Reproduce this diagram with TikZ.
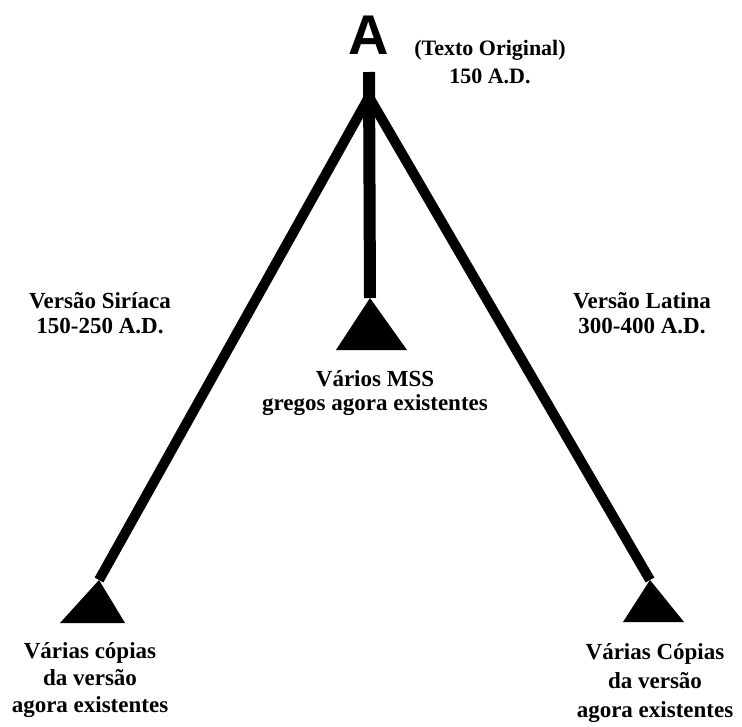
\documentclass[tikz,border=0pt]{standalone}
\usepackage{fontspec}
\setmainfont{Liberation Serif}
\newfontfamily\bigsans{Liberation Sans}
\begin{document}
\begin{tikzpicture}[x=1pt,y=-1pt,
  lbl/.style={font=\fontsize{23}{26}\selectfont\bfseries, align=center, inner sep=0pt, anchor=base},
  branch/.style={line width=10pt},
  tri/.style={fill=black}]
\useasboundingbox (0,0) rectangle (742,726);
% letter A
\node[inner sep=0pt, font=\fontsize{56}{56}\selectfont\bigsans\bfseries] (A) at (368.5,35) {A};
% junction points
\coordinate (stemtop) at (369,72);
\coordinate (fork) at (369,97);
\coordinate (mid) at (370,298);
\coordinate (left) at (99,580);
\coordinate (right) at (650,580);
% branches
\draw[branch] (fork) -- (left);
\draw[branch] (fork) -- (right);
\draw[line width=12pt] (stemtop) -- (mid);
% triangles
\fill[tri] (mid) -- (336,350) -- (407,350) -- cycle;
\fill[tri] (left) -- (60,623) -- (125,623) -- cycle;
\fill[tri] (right) -- (623,622) -- (684,622) -- cycle;
% labels (anchor = baseline of last line)
\node[lbl, font=\fontsize{22}{28}\selectfont\bfseries] (orig) at (490,83) {(Texto Original)\\150 A.D.};
\node[lbl, font=\fontsize{23}{25}\selectfont\bfseries] (siriaca) at (100,333) {Versão Siríaca\\150-250 A.D.};
\node[lbl, font=\fontsize{23}{25}\selectfont\bfseries] (latina) at (642,333) {Versão Latina\\300-400 A.D.};
\node[lbl, font=\fontsize{23}{24}\selectfont\bfseries] (mss) at (375,410) {Vários MSS\\gregos agora existentes};
\node[lbl, font=\fontsize{23}{27}\selectfont\bfseries] (lcop) at (90,712) {Várias cópias\\da versão\\agora existentes};
\node[lbl, font=\fontsize{23}{29}\selectfont\bfseries] (rcop) at (655,717) {Várias Cópias\\da versão\\agora existentes};
\end{tikzpicture}
\end{document}
